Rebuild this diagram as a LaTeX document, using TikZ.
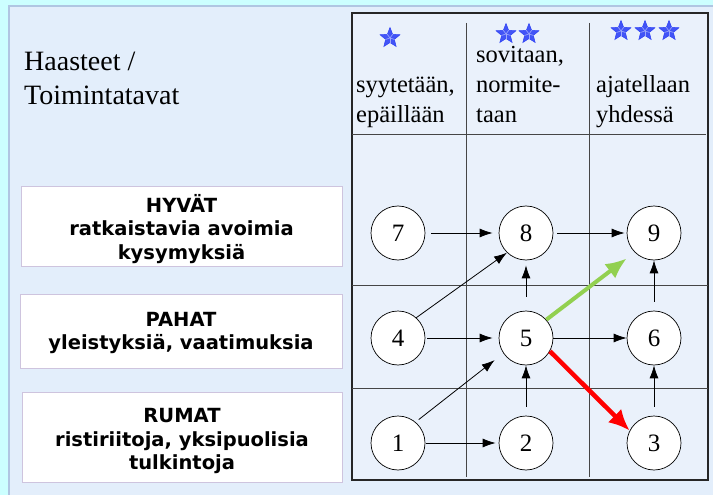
\documentclass[tikz,border=0pt]{standalone}
\usepackage{fontspec}
\setmainfont{Liberation Serif}
\newfontfamily\boxfont{DejaVu Sans}
\usetikzlibrary{shapes.geometric,arrows.meta}

\definecolor{outercyan}{RGB}{204,255,255}
\definecolor{panelbg}{RGB}{227,238,251}
\definecolor{panelrim}{RGB}{176,198,226}
\definecolor{tablebg}{RGB}{234,241,251}
\definecolor{boxrim}{RGB}{206,196,222}
\definecolor{starblue}{RGB}{45,65,245}
\definecolor{okgreen}{RGB}{146,208,80}
\definecolor{gridgray}{RGB}{70,70,70}

\tikzset{
  numnode/.style={circle, draw=black, line width=0.7pt, fill=white,
    minimum size=54pt, inner sep=0pt, font=\fontsize{25}{25}\selectfont},
  leftbox/.style={draw=boxrim, line width=0.8pt, fill=white, inner sep=0pt},
  boxtext/.style={align=center, inner sep=0pt,
    font=\boxfont\bfseries\fontsize{19.5}{23.5}\selectfont},
  headtext/.style={align=left, inner sep=0pt, anchor=base west,
    font=\fontsize{24.5}{30}\selectfont},
  thinarrow/.style={-{Latex[length=13pt,width=9pt]}, line width=0.8pt},
  starmark/.style={star, star points=5, star point ratio=2.3, minimum size=21pt,
    inner sep=0pt, fill=starblue!90, draw=starblue, line width=0.5pt},
}

% a bevelled blue star
\newcommand\bevelstar[2]{%
  \node[starmark] (#1) at (#2) {};
  \foreach \k in {1,...,5}{\draw[white!55!starblue, line width=0.6pt] (#1.center) -- (#1.inner point \k);}
}

\begin{document}
\begin{tikzpicture}[x=1pt,y=-1pt]
\useasboundingbox (0,0) rectangle (713,495);

% backgrounds
\fill[outercyan] (0,0) rectangle (713,495);
\fill[panelbg] (9,6) rectangle (713,495);
\draw[panelrim, line width=1.5pt] (713,6) -- (9,6) -- (9,495);

% title (base anchor = baseline of the last line)
\node[headtext, font=\fontsize{28}{34}\selectfont] (title) at (24,105) {Haasteet /\\Toimintatavat};

% table frame and grid
\filldraw[fill=tablebg, draw=black!85, line width=1.2pt] (352,13) rectangle (708,480);
\draw[gridgray, line width=0.9pt] (466,23) -- (466,477);
\draw[gridgray, line width=0.9pt] (589,23) -- (589,477);
\draw[gridgray, line width=0.9pt] (352,134) -- (706,134);
\draw[gridgray, line width=0.9pt] (352,285) -- (708,285);
\draw[gridgray, line width=0.9pt] (352,388) -- (708,388);

% column headers
\bevelstar{sa}{390,38}
\bevelstar{sb}{506,34}
\bevelstar{sc}{529,34}
\bevelstar{sd}{621,31}
\bevelstar{se}{645,31}
\bevelstar{sf}{669,31}
\node[headtext] (h1) at (356,122) {syytetään,\\epäillään};
\node[headtext] (h2) at (476,122) {sovitaan,\\normite-\\taan};
\node[headtext] (h3) at (596,122) {ajatellaan\\yhdessä};

% row labels
\node[leftbox, minimum width=321pt, minimum height=80pt] (hyvat) at (181.5,226) {};
\node[leftbox, minimum width=322pt, minimum height=74pt] (pahat) at (181,331) {};
\node[leftbox, minimum width=320pt, minimum height=90pt] (rumat) at (182,437) {};
\node[boxtext] (hyvatlbl) at ([yshift=-3pt]hyvat.center) {HYVÄT\\ratkaistavia avoimia\\kysymyksiä};
\node[boxtext] (pahatlbl) at ([yshift=-2pt]pahat.center) {PAHAT\\yleistyksiä, vaatimuksia};
\node[boxtext] (rumatlbl) at ([yshift=-4pt]rumat.center) {RUMAT\\ristiriitoja, yksipuolisia\\tulkintoja};

% states
\node[numnode] (n7) at (398,233) {7};
\node[numnode] (n8) at (526,233) {8};
\node[numnode] (n9) at (654,233) {9};
\node[numnode] (n4) at (398,338) {4};
\node[numnode] (n5) at (526,338) {5};
\node[numnode] (n6) at (654,338) {6};
\node[numnode] (n1) at (398,443) {1};
\node[numnode] (n2) at (526,443) {2};
\node[numnode] (n3) at (654,443) {3};

% transitions
\draw[thinarrow, shorten <=6pt, shorten >=6pt] (n7) -- (n8);
\draw[thinarrow, shorten <=4pt, shorten >=2pt] (n8) -- (n9);
\draw[thinarrow, shorten <=2pt, shorten >=6pt] (n4) -- (n5);
\draw[thinarrow] (n5) -- (n6);
\draw[thinarrow, shorten <=1pt, shorten >=3pt] (n1) -- (n2);
\draw[thinarrow] (n4.48) -- (n8.226);
\draw[thinarrow, shorten <=4pt, shorten >=11pt] (n1.50) -- (n5.214);
\draw[thinarrow, shorten <=14pt, shorten >=5pt] (n5) -- (n8);
\draw[thinarrow, shorten <=9pt] (n6) -- (n9);
\draw[thinarrow, shorten <=9pt] (n2) -- (n5);
\draw[thinarrow, shorten <=9pt] (n3) -- (n6);
\draw[okgreen, line width=4pt, -{Latex[length=21pt,width=18pt]}, shorten >=10pt] (n5.42) -- (n9.225);
\draw[red, line width=4.5pt, -{Latex[length=21pt,width=19pt]}] (n5.-29) -- (n3.153);
\end{tikzpicture}
\end{document}
